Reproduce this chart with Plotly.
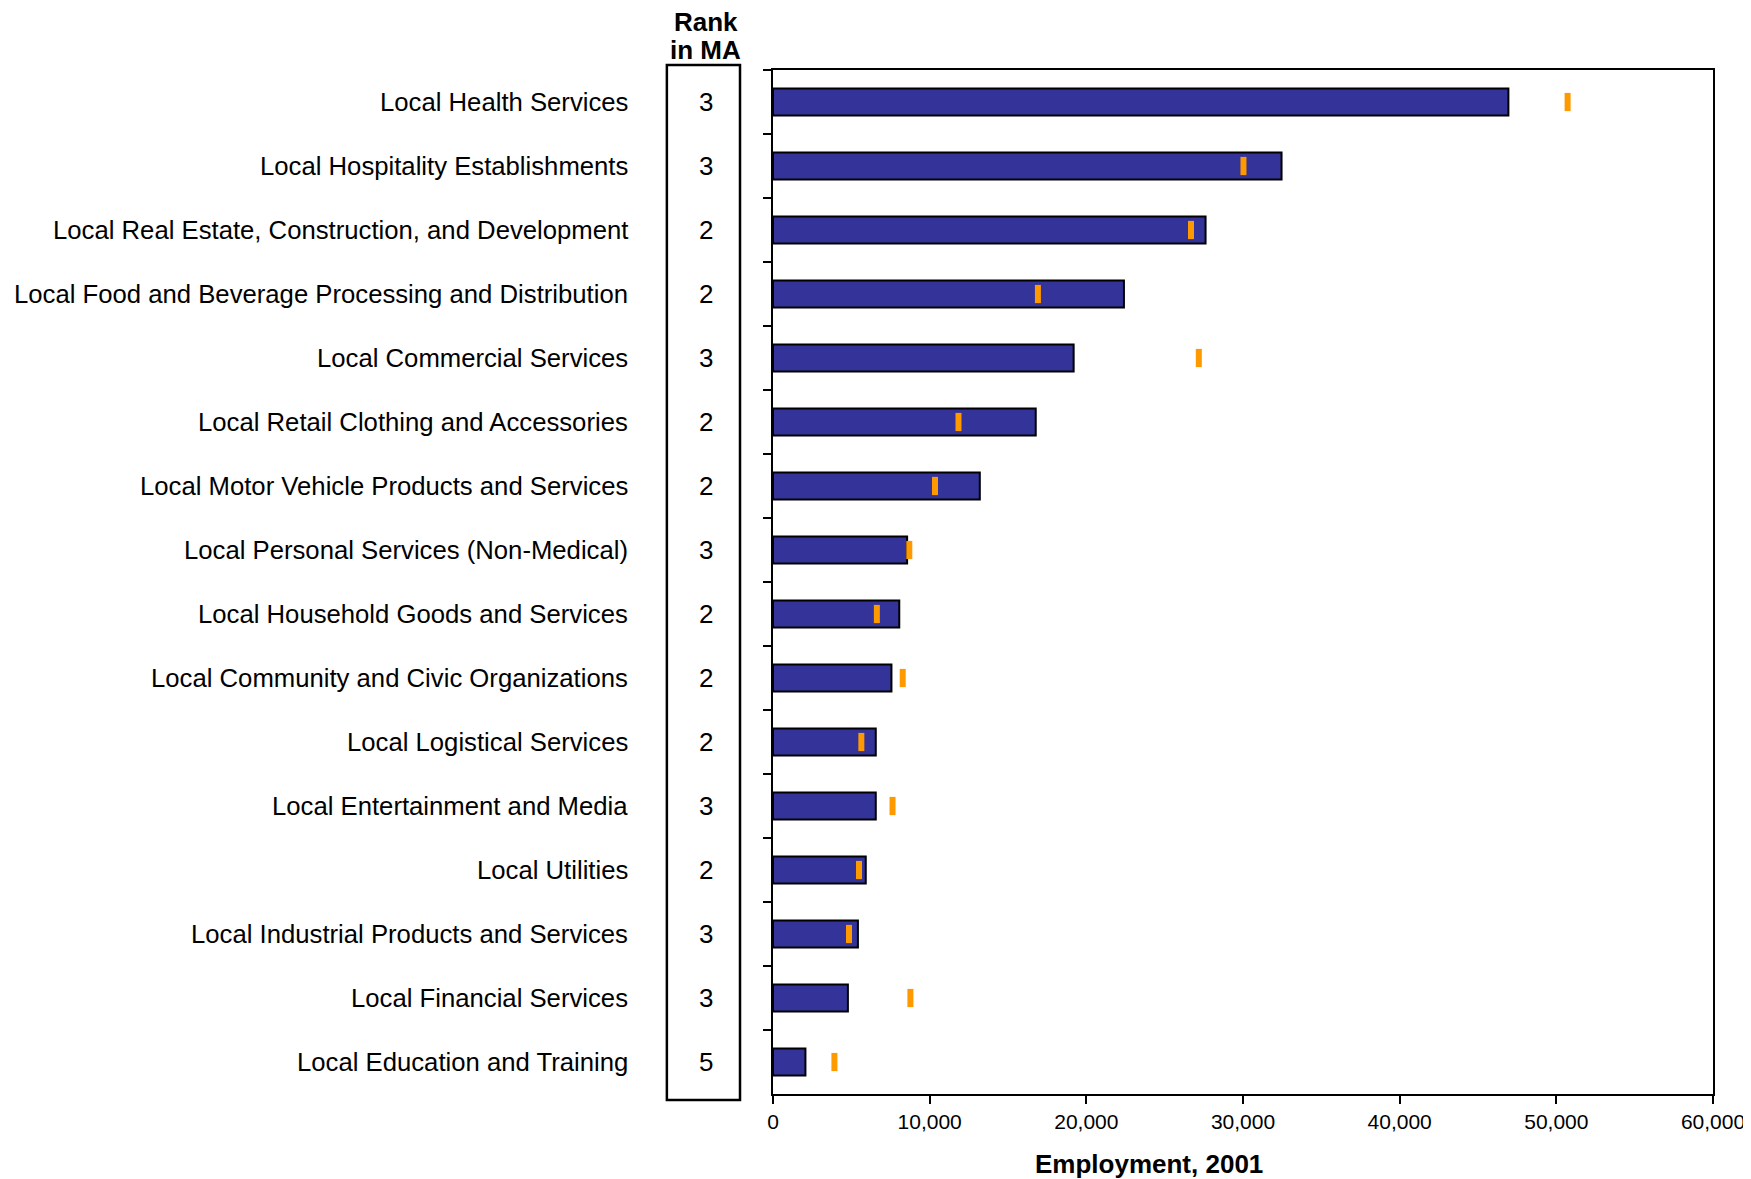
import plotly.graph_objects as go

categories = [
    "Local Health Services",
    "Local Hospitality Establishments",
    "Local Real Estate, Construction, and Development",
    "Local Food and Beverage Processing and Distribution",
    "Local Commercial Services",
    "Local Retail Clothing and Accessories",
    "Local Motor Vehicle Products and Services",
    "Local Personal Services (Non-Medical)",
    "Local Household Goods and Services",
    "Local Community and Civic Organizations",
    "Local Logistical Services",
    "Local Entertainment and Media",
    "Local Utilities",
    "Local Industrial Products and Services",
    "Local Financial Services",
    "Local Education and Training",
]
employment = [46940, 32460, 27610, 22400, 19190, 16770, 13200, 8560,
              8060, 7560, 6560, 6560, 5920, 5420, 4780, 2070]
benchmark = [50720, 30030, 26680, 16910, 27180, 11840, 10340, 8700,
             6630, 8280, 5640, 7630, 5490, 4850, 8770, 3920]
rank_ma = [3, 3, 2, 2, 3, 2, 2, 3, 2, 2, 2, 3, 2, 3, 3, 5]
x_ticks = [0, 10000, 20000, 30000, 40000, 50000, 60000]

FONT = "Liberation Sans, Arial, sans-serif"

fig = go.Figure()
fig.add_trace(go.Bar(
    y=categories, x=employment, orientation="h", width=0.42,
    marker=dict(color="#333399", line=dict(color="black", width=2)),
    showlegend=False, hoverinfo="x+y",
))
fig.add_trace(go.Scatter(
    y=categories, x=benchmark, mode="markers",
    marker=dict(symbol="line-ns", size=13, color="#FF9900",
                line=dict(color="#FF9900", width=6)),
    showlegend=False,
))

annotations = []
for cat, rk in zip(categories, rank_ma):
    annotations.append(dict(x=-0.1522, xref="paper", y=cat, yref="y",
                            text=cat, showarrow=False, xanchor="right",
                            yanchor="middle",
                            font=dict(family=FONT, size=25.7, color="black")))
    annotations.append(dict(x=-0.0714, xref="paper", y=cat, yref="y",
                            text=str(rk), showarrow=False, xanchor="center",
                            yanchor="middle",
                            font=dict(family=FONT, size=26, color="black")))
annotations.append(dict(x=-0.0714, xref="paper", y=1.0465, yref="paper",
                        text="<b>Rank</b>", showarrow=False, xanchor="center",
                        yanchor="middle",
                        font=dict(family=FONT, size=26, color="black")))
annotations.append(dict(x=-0.0714, xref="paper", y=1.0200, yref="paper",
                        text="<b>in MA</b>", showarrow=False, xanchor="center",
                        yanchor="middle",
                        font=dict(family=FONT, size=26, color="black")))
annotations.append(dict(x=0.4005, xref="paper", y=-0.0680, yref="paper",
                        text="<b>Employment, 2001</b>", showarrow=False,
                        xanchor="center", yanchor="middle",
                        font=dict(family=FONT, size=26, color="black")))

fig.update_layout(
    width=1743, height=1171,
    margin=dict(l=765, r=38, t=62, b=85, autoexpand=False),
    paper_bgcolor="white", plot_bgcolor="white",
    font=dict(family=FONT, color="black"),
    annotations=annotations,
    shapes=[dict(type="rect", xref="paper", yref="paper",
                 x0=-0.1129, x1=-0.0351, y0=-0.0059, y1=1.0049,
                 line=dict(color="black", width=2.5))],
)
fig.update_xaxes(
    range=[0, 60000], tickvals=x_ticks, tickformat=",",
    ticks="outside", ticklen=8, tickwidth=2, tickcolor="black",
    showline=True, linecolor="black", linewidth=2, mirror=True,
    showgrid=False, zeroline=False, automargin=False,
    tickfont=dict(family=FONT, size=21, color="black"),
)
fig.update_yaxes(
    type="category", range=[len(categories) - 0.5, -0.5], autorange=False,
    ticks="outside", ticklen=8, tickwidth=2, tickcolor="black",
    tickson="boundaries", automargin=False,
    showline=True, linecolor="black", linewidth=2, mirror=True,
    showgrid=False, showticklabels=False,
)

fig.write_html("out.html")
